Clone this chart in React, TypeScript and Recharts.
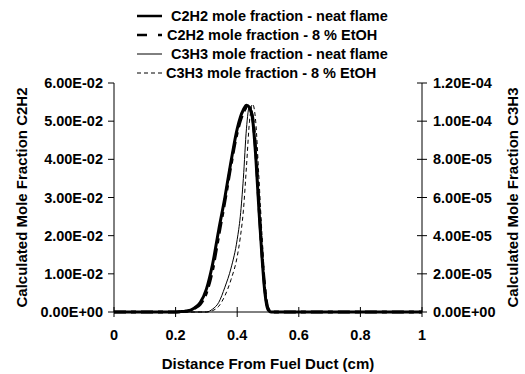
import React from 'react';
import { LineChart, Line, XAxis, YAxis, Legend, Label } from 'recharts';

// distance from fuel duct (cm)
const distance = [0, 0.1, 0.2, 0.22, 0.24, 0.26, 0.28, 0.3, 0.32, 0.34, 0.36, 0.38, 0.4, 0.41, 0.42, 0.43, 0.44, 0.45, 0.46, 0.47, 0.48, 0.49, 0.5, 0.51, 0.52, 0.6, 0.8, 1.0];

// C2H2 mole fraction (left axis)
const c2h2Neat = [0, 0, 0, 1e-4, 3e-4, 1.0e-3, 2.5e-3, 6.0e-3, 1.25e-2, 2.15e-2, 3.0e-2, 3.95e-2, 4.8e-2, 5.1e-2, 5.3e-2, 5.42e-2, 5.35e-2, 5.05e-2, 4.1e-2, 2.75e-2, 1.5e-2, 5.0e-3, 6e-4, 0, 0, 0, 0, 0];
const c2h2EtOH = [0, 0, 0, 1e-4, 3e-4, 9e-4, 2.0e-3, 5.0e-3, 1.1e-2, 2.0e-2, 2.9e-2, 3.85e-2, 4.7e-2, 5.0e-2, 5.22e-2, 5.35e-2, 5.32e-2, 5.1e-2, 4.25e-2, 2.9e-2, 1.6e-2, 6.0e-3, 1.0e-3, 0, 0, 0, 0, 0];

// C3H3 mole fraction (right axis)
const c3h3Neat = [0, 0, 0, 0, 0, 0, 0, 0, 1.5e-6, 5e-6, 1.3e-5, 2.3e-5, 3.8e-5, 5.0e-5, 7.0e-5, 9.6e-5, 1.08e-4, 1.03e-4, 8.6e-5, 6.0e-5, 3.3e-5, 1.1e-5, 1.5e-6, 0, 0, 0, 0, 0];
const c3h3EtOH = [0, 0, 0, 0, 0, 0, 0, 0, 7e-7, 3e-6, 8.5e-6, 1.7e-5, 2.9e-5, 3.9e-5, 5.3e-5, 7.6e-5, 1.0e-4, 1.09e-4, 1.0e-4, 7.2e-5, 4.2e-5, 1.6e-5, 3e-6, 0, 0, 0, 0, 0];

const xTicks = [0, 0.2, 0.4, 0.6, 0.8, 1];
const leftTicks = [0, 0.01, 0.02, 0.03, 0.04, 0.05, 0.06];
const rightTicks = [0, 0.00002, 0.00004, 0.00006, 0.00008, 0.0001, 0.00012];

const seriesNames = [
  'C2H2 mole fraction - neat flame',
  'C2H2 mole fraction - 8 % EtOH',
  'C3H3 mole fraction - neat flame',
  'C3H3 mole fraction - 8 % EtOH',
];

const data = distance.map((d, i) => ({
  distance: d,
  c2h2Neat: c2h2Neat[i],
  c2h2EtOH: c2h2EtOH[i],
  c3h3Neat: c3h3Neat[i],
  c3h3EtOH: c3h3EtOH[i],
}));

const SERIES = [
  { key: 'c2h2Neat', axis: 'left', width: 3, dash: undefined, sample: undefined, textX: 41 },
  { key: 'c2h2EtOH', axis: 'left', width: 3, dash: '12 5 5 5', sample: '10 11 5 50', textX: 37 },
  { key: 'c3h3Neat', axis: 'right', width: 1, dash: undefined, sample: undefined, textX: 41 },
  { key: 'c3h3EtOH', axis: 'right', width: 1, dash: '4 3', sample: '4 3', textX: 36 },
];

const FONT = '"Liberation Sans", Arial, sans-serif';
const textStyle = { fontFamily: FONT, fontSize: 14.5, fontWeight: 700, fill: '#000' };
const titleStyle = { ...textStyle, fontSize: 15 };

const sci = (v: number) => {
  const [m, e] = v.toExponential(2).split('e');
  const n = parseInt(e, 10);
  return `${m}E${n < 0 ? '-' : '+'}${String(Math.abs(n)).padStart(2, '0')}`;
};

const TICK = 5;
const X_GAP = 13;
const R_GAP = 6;

const XTick = (props: any) => {
  const { x, y, payload } = props;
  const axisY = y - TICK - X_GAP;
  return (
    <g>
      <line x1={x} x2={x} y1={axisY - 5} y2={axisY + 5} stroke="#000" />
      <text x={x} y={y} dy="0.71em" textAnchor="middle" style={textStyle}>
        {payload.value}
      </text>
    </g>
  );
};

const RightTick = (props: any) => {
  const { x, y, payload } = props;
  const axisX = x - TICK - R_GAP;
  return (
    <g>
      <line x1={axisX - 5} x2={axisX + 5} y1={y} y2={y} stroke="#000" />
      <text x={x} y={y} dy="0.355em" textAnchor="start" style={textStyle}>
        {sci(payload.value)}
      </text>
    </g>
  );
};

const LegendBox = () => (
  <svg width={300} height={86}>
    {SERIES.map((s, i) => {
      const cy = 12 + i * 19;
      return (
        <g key={s.key}>
          <line x1={7} x2={32} y1={cy} y2={cy} stroke="#000" strokeWidth={s.width === 3 ? 2.5 : 1} strokeDasharray={s.sample} />
          <text x={s.textX} y={cy} dy="0.355em" style={textStyle}>
            {seriesNames[i]}
          </text>
        </g>
      );
    })}
  </svg>
);

const LeftTitle = (props: any) => {
  const { x, y, height } = props.viewBox;
  const cx = x + 22;
  const cy = y + height / 2;
  return (
    <text x={cx} y={cy} dy="0.355em" textAnchor="middle" transform={`rotate(-90 ${cx} ${cy})`} style={titleStyle}>
      Calculated Mole Fraction C2H2
    </text>
  );
};

const RightTitle = (props: any) => {
  const { x, y, height } = props.viewBox;
  const cx = x + 91;
  const cy = y + height / 2;
  return (
    <text x={cx} y={cy} dy="0.355em" textAnchor="middle" transform={`rotate(-90 ${cx} ${cy})`} style={titleStyle}>
      Calculated Mole Fraction C3H3
    </text>
  );
};

const BottomTitle = (props: any) => {
  const { x, y, width } = props.viewBox;
  return (
    <text x={x + width / 2} y={y + 52} dy="0.355em" textAnchor="middle" style={titleStyle}>
      Distance From Fuel Duct (cm)
    </text>
  );
};

export default function App() {
  return (
    <div style={{ position: 'absolute', left: 0, top: 0, background: '#fff' }}>
      <LineChart width={525} height={374} data={data} margin={{ top: 83, right: 0, bottom: 0, left: 0 }}>
        <XAxis
          dataKey="distance"
          type="number"
          domain={[0, 1]}
          ticks={xTicks}
          height={62}
          tickSize={TICK}
          tickMargin={X_GAP}
          tickLine={false}
          axisLine={{ stroke: '#000' }}
          tick={<XTick />}
        >
          <Label content={<BottomTitle />} />
        </XAxis>
        <YAxis
          yAxisId="left"
          orientation="left"
          domain={[0, 0.06]}
          ticks={leftTicks}
          width={114}
          tickSize={6}
          tickMargin={5}
          tickLine={{ stroke: '#000' }}
          axisLine={{ stroke: '#000' }}
          tick={textStyle}
          tickFormatter={sci}
        >
          <Label content={<LeftTitle />} />
        </YAxis>
        <YAxis
          yAxisId="right"
          orientation="right"
          domain={[0, 0.00012]}
          ticks={rightTicks}
          width={103}
          tickSize={TICK}
          tickMargin={R_GAP}
          tickLine={false}
          axisLine={{ stroke: '#000' }}
          tick={<RightTick />}
        >
          <Label content={<RightTitle />} />
        </YAxis>
        <Legend
          layout="horizontal"
          verticalAlign="middle"
          align="center"
          content={<LegendBox />}
          wrapperStyle={{ top: 4, left: 130, width: 300, height: 86 }}
        />
        {SERIES.map((s, i) => (
          <Line
            key={s.key}
            yAxisId={s.axis}
            type="monotone"
            dataKey={s.key}
            name={seriesNames[i]}
            stroke="#000"
            strokeWidth={s.width}
            strokeDasharray={s.dash}
            dot={false}
            activeDot={false}
            isAnimationActive={false}
          />
        ))}
      </LineChart>
    </div>
  );
}
